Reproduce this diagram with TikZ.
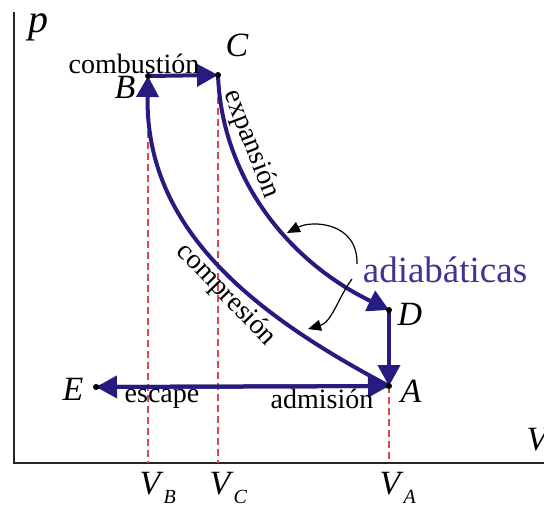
\documentclass[tikz,border=0pt]{standalone}
\usepackage{fontspec}
\setmainfont{Liberation Serif}
\newfontfamily\timesface{Liberation Serif}
\usetikzlibrary{arrows.meta}
\definecolor{cyclenavy}{RGB}{38,28,128}
\definecolor{adiabblue}{RGB}{62,52,145}
\definecolor{dashred}{RGB}{225,70,80}
\newcommand{\volsub}[1]{\textit{V}\raisebox{-0.6ex}{\fontsize{20}{20}\selectfont\textit{#1}}}
\tikzset{
    process/.style={cyclenavy, line width=4pt, -{Triangle[length=21pt,width=22pt]}},
    ptlabel/.style={font=\timesface\fontsize{34}{34}\selectfont\itshape},
    steplabel/.style={font=\timesface\fontsize{28}{28}\selectfont},
    guide/.style={dashred, line width=1.5pt, dash pattern=on 7pt off 4pt},
    pointer/.style={black, line width=1.2pt, -{Triangle[length=13pt,width=11pt]}}
}

\begin{document}
\begin{tikzpicture}[x=1pt, y=-1pt]
    \useasboundingbox (0,0) rectangle (544,506);
    % states of the cycle
    \coordinate (B) at (148,76);
    \coordinate (C) at (218,75);
    \coordinate (D) at (389,310);
    \coordinate (A) at (389,386);
    \coordinate (E) at (96,387);
    \coordinate (O) at (14,463);
    % axes
    \draw[line width=2.5pt, black!85] (14,12) -- (O) -- (560,463);
    % guides to the volume axis
    \draw[guide] (B) -- (B |- O);
    \draw[guide] (C) -- (C |- O);
    \draw[guide] (A) -- (A |- O);
    % processes
    \draw[process] (B) -- (C);
    \draw[process] (C) .. controls (222,180) and (290,262) .. (D);
    \draw[process] (D) -- (A);
    \draw[process] (A) -- (E);
    \draw[process] (E) -- (A);
    \draw[process] (A) .. controls (255,315) and (145,230) .. (B);
    \foreach \pt in {A,B,C,D,E}
        \fill (\pt) circle (3);
    % labels
    \node[ptlabel, font=\timesface\fontsize{40}{40}\selectfont\itshape] (plab) at (38,27) {p};
    \node[ptlabel] (Vlab) at (537,440) {V};
    \node[ptlabel] (Blab) at (125,87) {B};
    \node[ptlabel] (Clab) at (237,45) {C};
    \node[ptlabel] (Dlab) at (410,314) {D};
    \node[ptlabel] (Alab) at (411,391) {A};
    \node[ptlabel] (Elab) at (73,389) {E};
    \node[anchor=base west, font=\timesface\fontsize{34}{34}\selectfont] (VBlab) at (136,494) {\volsub{B}};
    \node[anchor=base west, font=\timesface\fontsize{34}{34}\selectfont] (VClab) at (206,494) {\volsub{C}};
    \node[anchor=base west, font=\timesface\fontsize{34}{34}\selectfont] (VAlab) at (376,494) {\volsub{A}};
    \node[steplabel] (comb) at (134,64) {combustión};
    \node[steplabel, rotate=-69] (expa) at (251,144) {expansión};
    \node[steplabel, rotate=-46] (comp) at (226,295) {compresión};
    \node[steplabel] (esc) at (162,399) {escape};
    \node[steplabel] (adm) at (322,399) {admisión};
    \node[adiabblue, font=\timesface\fontsize{37}{37}\selectfont] (adiab) at (445,270) {adiabáticas};
    % pointers to the adiabatic curves
    \coordinate (adup) at (357,264);
    \coordinate (addown) at (352,279);
    \draw[pointer] (adup) .. controls (358,222) and (312,220) .. (287,233);
    \draw[pointer] (addown) .. controls (338,298) and (332,322) .. (308,329);
\end{tikzpicture}
\end{document}
